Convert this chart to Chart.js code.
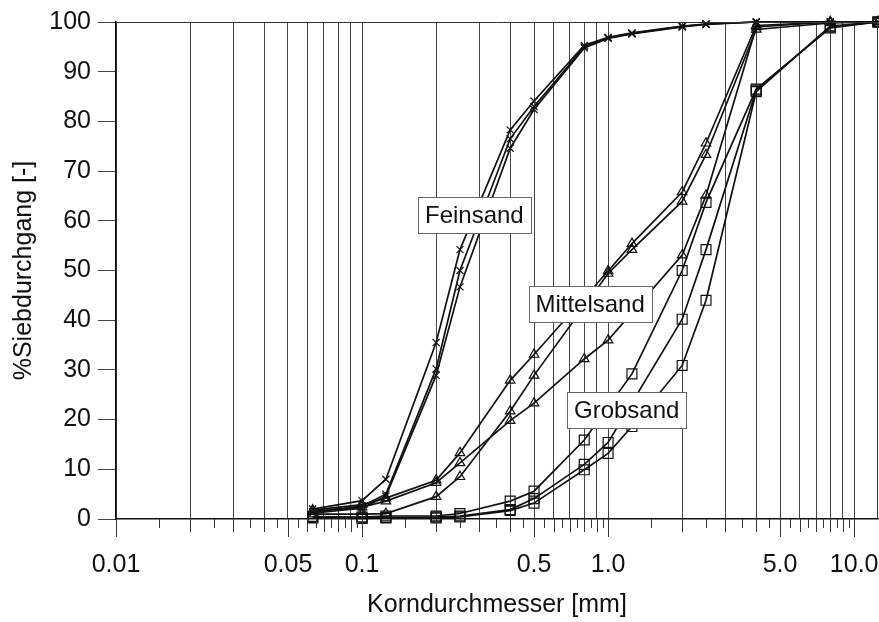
<!DOCTYPE html>
<html>
<head>
<meta charset="utf-8">
<script src="https://cdn.jsdelivr.net/npm/chart.js@4/dist/chart.umd.min.js"></script>
<style>
  html, body { margin: 0; padding: 0; background: #fff; }
</style>
</head>
<body>
<canvas id="sieve" width="879" height="622"></canvas>
<script>
const FONT = "'Liberation Sans', Arial, Helvetica, sans-serif";

// sieve mesh sizes [mm]
const sieves = [0.063, 0.1, 0.125, 0.2, 0.25, 0.4, 0.5, 0.8, 1.0, 1.25, 2.0, 2.5, 4.0, 8.0, 12.5];

// passing [%] per sieve, null where no reading was plotted
const fein1 = [2.0, 3.7, 8.0, 35.5, 54.2, 78.3, 84.1, 95.3, 96.9, 97.8, 99.2, 99.6, 100, 100, 100];
const fein2 = [1.5, 2.6, 5.0, 30.2, 50.0, 76.5, 83.0, 95.0, 96.8, 97.7, 99.1, 99.6, 100, 100, 100];
const fein3 = [1.2, 2.2, 4.6, 28.9, 46.7, 74.6, 82.4, 94.8, 96.7, 97.6, 99.0, 99.5, 100, 100, 100];

const mittel1 = [1.8, 2.9, 4.2, 7.8, 13.3, 27.9, 33.1, null, 49.9, 55.4, 65.8, 75.6, 99.3, 100, 100];
const mittel2 = [1.0, 1.0, 1.1, 4.5, 8.5, 21.7, 28.9, null, 49.4, 54.2, 63.9, 73.3, 98.5, 99.8, 100];
const mittel3 = [1.5, 2.4, 3.6, 7.3, 11.3, 19.8, 23.3, 32.2, 36.0, null, 53.1, 65.1, 99.0, 100, 100];

const grob1 = [0.5, 0.4, 0.6, 0.6, 1.1, 3.6, 5.6, 15.9, null, 29.2, 50.0, 63.7, 86.5, 98.8, 100];
const grob2 = [0.3, 0.2, 0.3, 0.4, 0.6, 1.9, 4.1, 11.0, 15.4, null, 40.2, 54.2, 86.3, 99.0, 100];
const grob3 = [0.2, 0.1, 0.2, 0.2, 0.4, 1.7, 3.2, 9.9, 13.2, 18.6, 30.9, 44.0, 86.0, 99.2, 100];

// labelled x ticks
const xLabelValues = [0.01, 0.05, 0.1, 0.5, 1, 5, 10];
const xLabelTexts = ['0.01', '0.05', '0.1', '0.5', '1.0', '5.0', '10.0'];

// soil class names written into the plot
const classNames = ['Feinsand', 'Mittelsand', 'Grobsand'];

// where the class boxes sit, in axis units
const classAnchors = [
  { x: 0.286, y: 61.1 },
  { x: 0.845, y: 43.2 },
  { x: 1.19, y: 21.9 }
];

// tick positions every half step of each decade: 0.01, 0.015, 0.02 ... 10
const xTickValues = [];
[0.01, 0.1, 1].forEach(dec => {
  for (let m = 1; m < 10; m += 0.5) xTickValues.push(Number((m * dec).toPrecision(6)));
});
xTickValues.push(10);

function mantissa(v) {
  const m = v / Math.pow(10, Math.floor(Math.log10(v) + 1e-9));
  return Math.round(m * 100) / 100;
}

function series(values, style, radius) {
  return {
    data: sieves.map((s, i) => ({ x: s, y: values[i] })).filter(p => p.y !== null),
    borderColor: '#111',
    borderWidth: 1.7,
    pointStyle: style,
    pointRadius: radius,
    pointBorderColor: '#111',
    pointBorderWidth: 1.2,
    pointBackgroundColor: 'rgba(0,0,0,0)',
    tension: 0,
    clip: false
  };
}

// chart frame (top/right) and the graded tick marks under the x axis
const frame = {
  id: 'frame',
  afterDraw(chart) {
    const { ctx, chartArea: a, scales: { x } } = chart;
    ctx.save();
    ctx.strokeStyle = '#333';
    ctx.lineWidth = 1;
    ctx.beginPath();
    ctx.moveTo(a.left, a.top + 0.5);
    ctx.lineTo(a.right - 0.5, a.top + 0.5);
    ctx.lineTo(a.right - 0.5, a.bottom);
    ctx.stroke();
    x.ticks.forEach(t => {
      const m = mantissa(t.value);
      let len = 9;
      if (m === 1 || m === 5) len = 18;
      else if (Number.isInteger(m)) len = 13;
      const px = Math.round(x.getPixelForValue(t.value)) + 0.5;
      ctx.beginPath();
      ctx.moveTo(px, a.bottom);
      ctx.lineTo(px, a.bottom + len);
      ctx.stroke();
    });
    ctx.restore();
  }
};

// white boxes with the soil class names, drawn over the curves
const classLabels = {
  id: 'classLabels',
  afterDatasetsDraw(chart) {
    const { ctx, scales: { x, y } } = chart;
    ctx.save();
    ctx.font = '24px ' + FONT;
    ctx.textAlign = 'center';
    ctx.textBaseline = 'middle';
    classNames.forEach((name, i) => {
      const cx = x.getPixelForValue(classAnchors[i].x);
      const cy = y.getPixelForValue(classAnchors[i].y);
      const w = Math.round(ctx.measureText(name).width + 14);
      const h = 36;
      const left = Math.round(cx - w / 2) + 0.5;
      const top = Math.round(cy - h / 2) + 0.5;
      ctx.fillStyle = '#fff';
      ctx.fillRect(left, top, w, h);
      ctx.strokeStyle = '#666';
      ctx.lineWidth = 1;
      ctx.strokeRect(left, top, w, h);
      ctx.fillStyle = '#111';
      ctx.fillText(name, cx, cy + 1);
    });
    ctx.restore();
  }
};

const myChart = new Chart(document.getElementById('sieve'), {
  type: 'line',
  data: {
    datasets: [
      series(fein1, 'crossRot', 5),
      series(fein2, 'crossRot', 5),
      series(fein3, 'crossRot', 5),
      series(mittel1, 'triangle', 5.5),
      series(mittel2, 'triangle', 5.5),
      series(mittel3, 'triangle', 5.5),
      series(grob1, 'rect', 7),
      series(grob2, 'rect', 7),
      series(grob3, 'rect', 7)
    ]
  },
  options: {
    responsive: false,
    animation: false,
    layout: { autoPadding: false, padding: { top: 20, right: 1 } },
    plugins: {
      legend: { display: false },
      tooltip: { enabled: false }
    },
    scales: {
      x: {
        type: 'logarithmic',
        min: 0.01,
        max: 12.5,
        afterFit: s => {
          s.height = 103;
          s.paddingLeft = 0;
          s.paddingRight = 0;
        },
        afterBuildTicks: s => { s.ticks = xTickValues.map(v => ({ value: v })); },
        grid: {
          drawTicks: true,
          tickLength: 30,
          tickColor: 'rgba(0,0,0,0)',
          lineWidth: 1,
          color: c => Number.isInteger(mantissa(c.tick.value)) ? '#444' : 'rgba(0,0,0,0)'
        },
        border: { color: '#111', width: 1.5 },
        ticks: {
          autoSkip: false,
          maxRotation: 0,
          padding: 1,
          color: '#111',
          font: { family: FONT, size: 25 },
          callback: v => {
            const i = xLabelValues.findIndex(l => Math.abs(l - v) < 1e-9);
            return i < 0 ? '' : xLabelTexts[i];
          }
        },
        title: {
          display: true,
          text: 'Korndurchmesser [mm]',
          color: '#111',
          font: { family: FONT, size: 25 },
          padding: { top: 0, bottom: 2 }
        }
      },
      y: {
        min: 0,
        max: 100,
        afterFit: s => { s.width = 116; },
        grid: { drawOnChartArea: false, tickLength: 18, tickColor: '#444', tickWidth: 1 },
        border: { color: '#111', width: 1.5 },
        ticks: {
          stepSize: 10,
          padding: 7,
          color: '#111',
          font: { family: FONT, size: 25 }
        },
        title: {
          display: true,
          text: '%Siebdurchgang [-]',
          color: '#111',
          font: { family: FONT, size: 25 },
          padding: { top: 9, bottom: 0 }
        }
      }
    }
  },
  plugins: [frame, classLabels]
});
</script>
</body>
</html>
